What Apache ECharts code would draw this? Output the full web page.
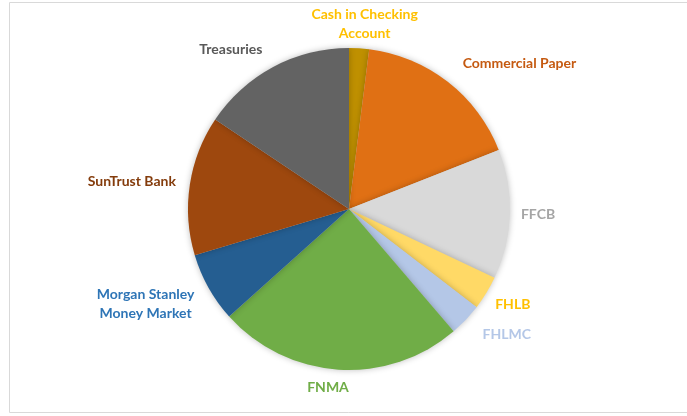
<!DOCTYPE html>
<html>
<head>
<meta charset="utf-8">
<script src="https://cdn.jsdelivr.net/npm/echarts@6/dist/echarts.min.js"></script>
<style>
  html, body { margin: 0; padding: 0; background: #fff; }
  #chart { width: 687px; height: 416px; }
</style>
</head>
<body>
<div id="chart"></div>
<script>
// holdings, clockwise from 12 o'clock
const categories = [
    'Cash in Checking\nAccount',
    'Commercial Paper',
    'FFCB',
    'FHLB',
    'FHLMC',
    'FNMA',
    'Morgan Stanley\nMoney Market',
    'SunTrust Bank',
    'Treasuries'
];
const shares = [2.0, 17.0, 13.0, 3.4, 3.3, 24.6, 7.0, 14.0, 15.6];
const sliceColors = ['#BF9000', '#E07014', '#D9D9D9', '#FFD966', '#B4C7E7', '#70AD47', '#255E91', '#9E480E', '#636363'];
const labelColors = ['#FFC000', '#C55A11', '#A5A5A5', '#FFC000', '#B4C7E7', '#70AD47', '#2E75B6', '#843C0C', '#595959'];
// nudges so the labels sit where Excel put them
const labelShift = [[0, -16], [5, -12], [-2, 0], [-3, 7], [6, 9], [16, 10], [-51, 12], [-1, -2], [-2, -10]];
const centered = [true, false, false, false, false, false, true, false, false];

const myChart = echarts.init(document.getElementById('chart'));

const option = {
    animation: false,
    graphic: [{
        type: 'rect',
        shape: { x: 9.5, y: 2.5, width: 700, height: 410 },
        style: { fill: 'none', stroke: '#D9D9D9', lineWidth: 1 }
    }],
    series: [{
        type: 'pie',
        center: [349, 209],
        radius: 161,
        startAngle: 90,
        clockwise: true,
        itemStyle: {
            shadowBlur: 6,
            shadowColor: 'rgba(0,0,0,0.25)'
        },
        label: {
            position: 'outside',
            fontFamily: 'Lato',
            fontWeight: 'bold',
            fontSize: 14,
            lineHeight: 19
        },
        labelLine: { show: false, length: 8, length2: 0 },
        labelLayout: function (p) {
            const s = labelShift[p.dataIndex];
            const out = { dx: s[0], dy: s[1] };
            if (centered[p.dataIndex]) out.align = 'center';
            return out;
        },
        data: categories.map((name, i) => ({
            name: name,
            value: shares[i],
            itemStyle: { color: sliceColors[i] },
            label: { color: labelColors[i] }
        }))
    }]
};

myChart.setOption(option);
</script>
</body>
</html>
